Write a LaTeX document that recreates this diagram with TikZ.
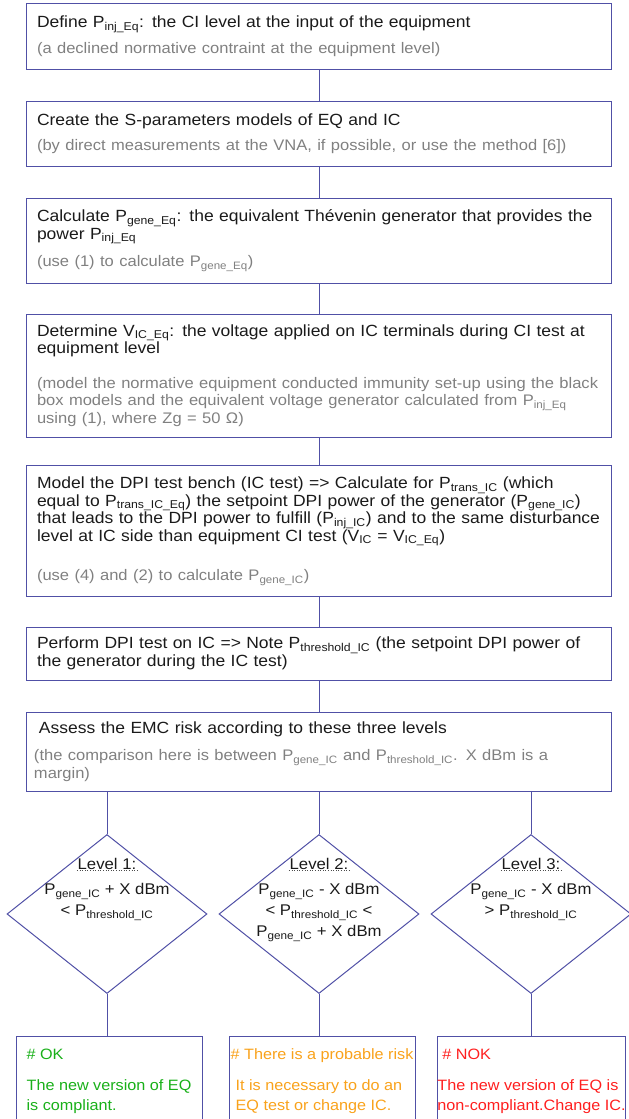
\documentclass[tikz,border=0pt]{standalone}
\usepackage{fontspec}
\setmainfont{Liberation Sans}[FakeStretch=1.08]
\usetikzlibrary{shapes.geometric}

\definecolor{boxline}{HTML}{5050A6}
\definecolor{maintext}{HTML}{1A1A1A}
\definecolor{notegrey}{HTML}{808080}
\definecolor{okgreen}{HTML}{19B019}
\definecolor{riskorange}{HTML}{F9A21B}
\definecolor{nokred}{HTML}{FF1F1F}

\newcommand\lowidx[1]{\textsubscript{#1}}
\newcommand\greynote[1]{{\color{notegrey}\fontsize{15.3}{17}\selectfont#1}}

\begin{document}
\begin{tikzpicture}[x=1pt,y=-1pt,
  stepbox/.style={draw=boxline,line width=1pt,text=maintext,text width=570pt,inner xsep=7.5pt,inner ysep=3pt,align=left,font=\fontsize{16.2}{17.5}\selectfont},
  link/.style={boxline,line width=1pt},
  decision/.style={draw=boxline,line width=1pt,diamond,minimum width=200pt,minimum height=159pt,inner sep=0pt},
  levelhead/.style={inner sep=0.5pt,text=maintext,font=\fontsize{15.5}{18}\selectfont},
  levelbody/.style={align=center,inner sep=0pt,text=maintext,font=\fontsize{15.5}{21}\selectfont},
  underdots/.style={dotted,line width=0.6pt,black!70},
  resultbox/.style={draw=boxline,line width=1pt,minimum width=186pt,minimum height=90pt,inner xsep=0pt,align=left,font=\fontsize{15}{20}\selectfont}]
  \useasboundingbox (0,0) rectangle (629,1119);

  % the seven steps
  \node[stepbox,minimum height=66pt] (define) at (319,36)
    {\hspace*{3pt}Define P\lowidx{inj\_Eq}: the CI level at the input of the equipment\\[8pt]
     \hspace*{3pt}\greynote{(a declined normative contraint at the equipment level)}};
  \node[stepbox,minimum height=65pt] (create) at (319,133.5)
    {\hspace*{3pt}Create the S-parameters models of EQ and IC\\[8pt]
     \hspace*{3pt}\greynote{(by direct measurements at the VNA, if possible, or use the method [6])}};
  \node[stepbox,minimum height=85pt] (calc) at (319,240.5)
    {\hspace*{3pt}Calculate P\lowidx{gene\_Eq}: the equivalent Thévenin generator that provides the\\
     \hspace*{3pt}power P\lowidx{inj\_Eq}\\[10pt]
     \hspace*{3pt}\greynote{(use (1) to calculate P\lowidx{gene\_Eq})}};
  \node[stepbox,minimum height=123pt] (determine) at (319,375.5)
    {\hspace*{3pt}Determine V\lowidx{IC\_Eq}: the voltage applied on IC terminals during CI test at\\
     \hspace*{3pt}equipment level\\[17pt]
     \hspace*{3pt}\greynote{(model the normative equipment conducted immunity set-up using the black}\\
     \hspace*{3pt}\greynote{box models and the equivalent voltage generator calculated from P\lowidx{inj\_Eq}}\\
     \hspace*{3pt}\greynote{using (1), where Zg = 50 Ω)}};
  \node[stepbox,minimum height=131pt] (bench) at (319,531)
    {\hspace*{3pt}Model the DPI test bench (IC test) => Calculate for P\lowidx{trans\_IC} (which\\
     \hspace*{3pt}equal to P\lowidx{trans\_IC\_Eq}) the setpoint DPI power of the generator (P\lowidx{gene\_IC})\\
     \hspace*{3pt}that leads to the DPI power to fulfill (P\lowidx{inj\_IC}) and to the same disturbance\\
     \hspace*{3pt}level at IC side than equipment CI test (V\lowidx{IC} = V\lowidx{IC\_Eq})\\[22pt]
     \hspace*{3pt}\greynote{(use (4) and (2) to calculate P\lowidx{gene\_IC})}};
  \node[stepbox,minimum height=53pt] (perform) at (319,653.5)
    {\hspace*{3pt}Perform DPI test on IC => Note P\lowidx{threshold\_IC} (the setpoint DPI power of\\
     \hspace*{3pt}the generator during the IC test)};
  \node[stepbox,minimum height=79pt] (assess) at (319,751.5)
    {\hspace*{5pt}Assess the EMC risk according to these three levels\\[10pt]
     \greynote{(the comparison here is between P\lowidx{gene\_IC} and P\lowidx{threshold\_IC}. X dBm is a}\\
     \greynote{margin)}};

  \draw[link] (define) -- (create);
  \draw[link] (create) -- (calc);
  \draw[link] (calc) -- (determine);
  \draw[link] (determine) -- (bench);
  \draw[link] (bench) -- (perform);
  \draw[link] (perform) -- (assess);

  % the three levels
  \node[decision] (lvl1) at (107,914) {};
  \node[levelhead] (lvl1head) at (107,864) {Level 1:};
  \draw[underdots] (lvl1head.south west) -- (lvl1head.south east);
  \node[levelbody,anchor=north] (lvl1body) at (107,883)
    {P\lowidx{gene\_IC} + X dBm\\< P\lowidx{threshold\_IC}};

  \node[decision] (lvl2) at (319,914) {};
  \node[levelhead] (lvl2head) at (319,864) {Level 2:};
  \draw[underdots] (lvl2head.south west) -- (lvl2head.south east);
  \node[levelbody,anchor=north] (lvl2body) at (319,883)
    {P\lowidx{gene\_IC} - X dBm\\< P\lowidx{threshold\_IC} <\\P\lowidx{gene\_IC} + X dBm};

  \node[decision] (lvl3) at (531,914) {};
  \node[levelhead] (lvl3head) at (531,864) {Level 3:};
  \draw[underdots] (lvl3head.south west) -- (lvl3head.south east);
  \node[levelbody,anchor=north] (lvl3body) at (531,883)
    {P\lowidx{gene\_IC} - X dBm\\> P\lowidx{threshold\_IC}};

  \draw[link] (assess.south -| lvl1.north) -- (lvl1.north);
  \draw[link] (assess.south -| lvl2.north) -- (lvl2.north);
  \draw[link] (assess.south -| lvl3.north) -- (lvl3.north);

  % the outcomes
  \node[resultbox,text=okgreen] (ok) at (109,1081)
    {\# OK\\[11pt]The new version of EQ\\is compliant.};
  \node[resultbox,text=riskorange] (risk) at (322,1081)
    {\# There is a probable risk\\[11pt]\hspace*{5pt}It is necessary to do an\\\hspace*{5pt}EQ test or change IC.};
  \node[resultbox,text=nokred] (nok) at (531.5,1081)
    {\hspace*{5pt}\# NOK\\[11pt]The new version of EQ is\\non-compliant.Change~IC.};

  \draw[link] (lvl1.south) -- (lvl1.south |- ok.north);
  \draw[link] (lvl2.south) -- (lvl2.south |- risk.north);
  \draw[link] (lvl3.south) -- (lvl3.south |- nok.north);
\end{tikzpicture}
\end{document}
